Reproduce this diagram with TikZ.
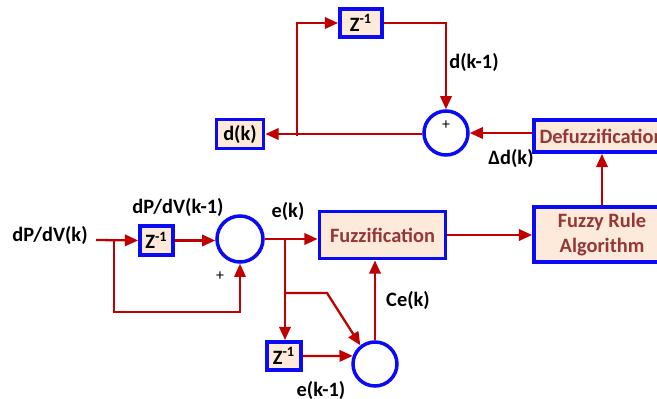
\documentclass[tikz,border=0pt]{standalone}
\usepackage{fontspec}
\setmainfont{Carlito}
\usetikzlibrary{arrows.meta,calc}
\definecolor{sigred}{HTML}{C00000}
\definecolor{boxblue}{HTML}{0A0AF5}
\definecolor{boxfill}{HTML}{FDEADA}
\definecolor{boxtext}{HTML}{953735}
\newcommand{\labelfont}{\fontsize{11.6}{13.5}\selectfont\bfseries}
\tikzset{
  blk/.style={draw=boxblue,line width=2.2pt,fill=boxfill,font=\labelfont,text=boxtext,inner sep=0pt,align=center},
  delay/.style={draw=boxblue,line width=2.2pt,fill=boxfill,font=\labelfont,inner sep=0pt},
  summer/.style={circle,draw=boxblue,line width=2pt,inner sep=0pt},
  sig/.style={draw=sigred,line width=1.3pt,-{Triangle[length=7.5pt,width=6.5pt]}},
  lbl/.style={font=\labelfont,inner sep=0pt}
}

\begin{document}
\begin{tikzpicture}[line join=miter,x=0.02cm,y=-0.02cm]
  \useasboundingbox (0,0) rectangle (657,399);
  % upper loop
  \node[delay,minimum width=0.84cm,minimum height=0.56cm] (ztop) at (361,23) {Z\textsuperscript{-1}};
  \node[delay,minimum width=0.94cm,minimum height=0.58cm] (dk) at (240,134) {d(k)};
  \node[summer,minimum size=0.88cm] (sumd) at (446,133) {};
  \node[font=\small,inner sep=0pt] (plusd) at (446,125) {+};
  \node[blk,minimum width=2.72cm,minimum height=0.64cm] (defuzz) at (602,136) {Defuzzification};
  \node[blk,minimum width=2.72cm,minimum height=1.1cm] (rules) at (602,234.5) {Fuzzy Rule\\[1pt]Algorithm};
  \node[blk,minimum width=2.52cm,minimum height=0.94cm] (fuzzif) at (382.5,235) {Fuzzification};
  % lower part
  \node[delay,minimum width=0.66cm,minimum height=0.58cm] (zin) at (156.5,240.5) {Z\textsuperscript{-1}};
  \node[summer,minimum size=0.92cm] (sume) at (240,239) {};
  \node[delay,minimum width=0.68cm,minimum height=0.56cm] (zerr) at (284,356) {Z\textsuperscript{-1}};
  \node[summer,minimum size=0.88cm] (sumce) at (375,364) {};

  \coordinate (src) at (96,240);
  \coordinate (tapin) at (114,240);
  \coordinate (tapd) at (297,136);
  \coordinate (tape) at (285,239);
  \coordinate (tapce) at (285,293);

  % labels
  \node[lbl] (lin) at (50,235) {dP/dV(k)};
  \node[lbl] (lprev) at (178,207) {dP/dV(k-1)};
  \node[lbl] (lek) at (288,211) {e(k)};
  \node[font=\small,inner sep=0pt] (plus) at (220,276) {+};
  \node[lbl] (ldprev) at (474,62) {d(k-1)};
  \node[lbl] (ldelta) at (511,158) {Δd(k)};
  \node[lbl] (lce) at (408,300) {Ce(k)};
  \node[lbl] (leprev) at (321,390) {e(k-1)};

  % connectors
  \draw[sig] (sumd.west |- dk) -- (dk.east);
  \draw[sig] (tapd) |- (ztop.west);
  \draw[sig] (ztop.east) -| (sumd.north);
  \draw[sig] (defuzz.west |- sumd) -- (sumd.east);
  \draw[sig] (rules.north) -- (defuzz.south);
  \draw[sig] (fuzzif.east) -- (fuzzif.east -| rules.west);
  \draw[sig] (src) -- (zin.west);
  \draw[sig] (tapin) -- ++(0,72) -| (sume.south);
  \draw[sig] (zin.east) -- (sume.west |- zin.east);
  \draw[sig] (sume.east) -- (fuzzif.west |- sume.east);
  \draw[sig] (tape) -- (tape |- zerr.north);
  \draw[sig] (tapce) -- ++(42,0) -- (sumce.128);
  \draw[sig] (zerr.east) -- (sumce.160);
  \draw[sig] (sumce.north) -- (fuzzif.south -| sumce.north);
\end{tikzpicture}
\end{document}
